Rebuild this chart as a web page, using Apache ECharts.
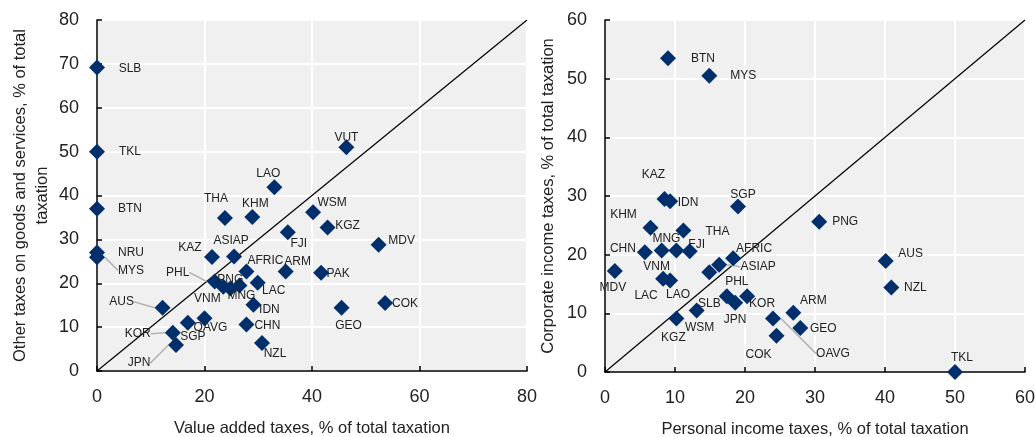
<!DOCTYPE html>
<html>
<head>
<meta charset="utf-8">
<script src="https://cdn.jsdelivr.net/npm/echarts@6/dist/echarts.min.js"></script>
<style>
  html, body { margin: 0; padding: 0; background: #fff; }
  #chart { width: 1035px; height: 437px; }
</style>
</head>
<body>
<div id="chart"></div>
<script>
// left panel: VAT vs other taxes on goods and services
var namesLeft = ['SLB', 'TKL', 'BTN', 'NRU', 'MYS', 'AUS', 'KOR', 'SGP', 'JPN', 'OAVG', 'VNM',
    'PHL', 'PNG', 'MNG', 'KAZ', 'ASIAP', 'THA', 'KHM', 'LAO', 'VUT', 'WSM', 'KGZ', 'FJI',
    'MDV', 'AFRIC', 'ARM', 'PAK', 'LAC', 'IDN', 'CHN', 'NZL', 'GEO', 'COK'];
var vatLeft = [0, 0, 0, 0, 0, 12.2, 14.1, 16.9, 14.7, 20.0, 23.5,
    21.9, 24.8, 26.5, 21.4, 25.5, 23.8, 28.9, 33.0, 46.4, 40.2, 42.9, 35.5,
    52.4, 27.8, 35.1, 41.7, 29.9, 29.1, 27.8, 30.7, 45.5, 53.6];
var otherLeft = [69.2, 50.0, 37.0, 27.0, 25.9, 14.4, 8.7, 11.0, 5.9, 12.0, 19.2,
    20.4, 18.8, 19.5, 26.0, 26.1, 34.9, 35.1, 41.9, 51.0, 36.2, 32.7, 31.6,
    28.8, 22.7, 22.7, 22.4, 20.1, 15.1, 10.6, 6.4, 14.4, 15.5];
var xTicksLeft = [0, 20, 40, 60, 80];
var yTicksLeft = [0, 10, 20, 30, 40, 50, 60, 70, 80];
var diagLeft = [[0, 0], [80, 80]];

// right panel: PIT vs CIT
var namesRight = ['BTN', 'MYS', 'KAZ', 'IDN', 'SGP', 'KHM', 'THA', 'MNG', 'VNM', 'FJI',
    'CHN', 'MDV', 'LAC', 'LAO', 'SLB', 'ASIAP', 'AFRIC', 'PHL', 'JPN', 'KOR', 'WSM',
    'KGZ', 'OAVG', 'COK', 'ARM', 'GEO', 'PNG', 'AUS', 'NZL', 'TKL'];
var pitRight = [9.0, 14.9, 8.5, 9.3, 19.0, 6.5, 11.2, 10.2, 8.1, 12.1,
    5.7, 1.4, 8.3, 9.3, 14.9, 16.3, 18.3, 17.4, 18.6, 20.3, 13.1,
    10.2, 24.0, 24.5, 26.9, 27.9, 30.6, 40.1, 40.9, 50.0];
var citRight = [53.5, 50.5, 29.5, 29.1, 28.2, 24.6, 24.1, 20.7, 20.7, 20.6,
    20.4, 17.2, 15.9, 15.6, 17.0, 18.3, 19.4, 12.9, 11.8, 12.9, 10.5,
    9.1, 9.1, 6.2, 10.1, 7.5, 25.6, 18.9, 14.4, 0];
var xTicksRight = [0, 10, 20, 30, 40, 50, 60];
var yTicksRight = [0, 10, 20, 30, 40, 50, 60];
var diagRight = [[0, 0], [60, 60]];

// label placement (px offset from the marker centre)
var offsetLeft = {
    SLB: [33, 1], TKL: [33, 0], BTN: [33, 0], NRU: [34, 0], MYS: [34, 13],
    AUS: [-41, -6], KOR: [-35, 1], SGP: [5, 14], JPN: [-37, 18], OAVG: [6, 9],
    VNM: [-16, 12], PHL: [-37, -9], PNG: [0, -9], MNG: [2, 10], KAZ: [-22, -9],
    ASIAP: [-3, -16], THA: [-9, -19], KHM: [3, -13], LAO: [-6, -13], VUT: [0, -10],
    WSM: [19, -9], KGZ: [20, -2], FJI: [11, 11], MDV: [23, -4], AFRIC: [19, -11],
    ARM: [12, -10], PAK: [17, 1], LAC: [16, 8], IDN: [16, 5], CHN: [21, 1],
    NZL: [13, 11], GEO: [7, 18], COK: [20, 1]
};
var offsetRight = {
    BTN: [35, 1], MYS: [34, 0], KAZ: [-11, -24], IDN: [18, 1], SGP: [5, -12],
    KHM: [-27, -13], THA: [34, 1], MNG: [-10, -12], VNM: [-5, 16], FJI: [7, -6],
    CHN: [-22, -4], MDV: [-2, 17], LAC: [-17, 17], LAO: [8, 14], SLB: [0, 31],
    ASIAP: [39, 2], AFRIC: [21, -9], PHL: [10, -15], JPN: [0, 17], KOR: [15, 7],
    WSM: [3, 17], KGZ: [-3, 19], OAVG: [60, 35], COK: [-18, 19], ARM: [20, -12],
    GEO: [23, 1], PNG: [26, 0], AUS: [25, -7], NZL: [24, 0], TKL: [7, -14]
};
var leaderLeft = ['MYS', 'AUS', 'KOR', 'JPN', 'PHL'];
var leaderRight = ['ASIAP', 'OAVG'];

var FONT = "'Liberation Sans Narrow', 'Arial Narrow', 'Liberation Sans', sans-serif";
var NAVY = '#002f6c';

function buildPoints(names, xs, ys, leaders) {
    return names.map(function (n, i) {
        var item = { name: n, value: [xs[i], ys[i]] };
        if (leaders.indexOf(n) >= 0) {
            item.labelLine = { show: true, lineStyle: { color: '#b5b5b5', width: 1.5 } };
        }
        return item;
    });
}

function xAxisCfg(idx, ticks, name) {
    return {
        gridIndex: idx, type: 'value', name: name, nameLocation: 'middle', nameGap: 49,
        nameTextStyle: { fontFamily: FONT, fontSize: 16.5, color: '#222' },
        min: ticks[0], max: ticks[ticks.length - 1], interval: ticks[1] - ticks[0],
        axisLine: { show: true, onZero: false, lineStyle: { color: '#000', width: 1.5 } },
        axisTick: { show: true, inside: true, length: 5, lineStyle: { color: '#000', width: 1.5 } },
        axisLabel: { fontFamily: FONT, fontSize: 18, color: '#222', margin: 17 },
        splitLine: { show: true, lineStyle: { color: '#fff', width: 2 } }
    };
}

function yAxisCfg(idx, ticks, name, gap) {
    return {
        gridIndex: idx, type: 'value', name: name, nameLocation: 'middle', nameGap: gap,
        nameTextStyle: { fontFamily: FONT, fontSize: 16.5, color: '#222', lineHeight: 22 },
        min: ticks[0], max: ticks[ticks.length - 1], interval: ticks[1] - ticks[0],
        axisLine: { show: true, onZero: false, lineStyle: { color: '#000', width: 1.5 } },
        axisTick: { show: true, inside: true, length: 5, lineStyle: { color: '#000', width: 1.5 } },
        axisLabel: { fontFamily: FONT, fontSize: 18, color: '#222', margin: 18 },
        splitLine: { show: true, lineStyle: { color: '#fff', width: 2 } }
    };
}

function scatterSeries(idx, names, xs, ys, leaders, offsets) {
    return {
        type: 'scatter', xAxisIndex: idx, yAxisIndex: idx, z: 5,
        symbol: 'diamond', symbolSize: 16,
        itemStyle: { color: NAVY, opacity: 1 },
        data: buildPoints(names, xs, ys, leaders),
        label: {
            show: true, position: 'inside', formatter: '{b}',
            fontFamily: FONT, fontSize: 12, color: '#222'
        },
        labelLayout: function (p) {
            var o = offsets[names[p.dataIndex]] || [0, 0];
            return { dx: o[0], dy: o[1] };
        },
        emphasis: { disabled: true }
    };
}

function diagSeries(idx, data) {
    return {
        type: 'line', xAxisIndex: idx, yAxisIndex: idx, z: 2, silent: true,
        data: data, symbol: 'none',
        lineStyle: { color: '#000', width: 1.2 }
    };
}

var myChart = echarts.init(document.getElementById('chart'));
var option = {
    animation: false,
    grid: [
        { left: 97, top: 20, width: 430, height: 351, show: true, backgroundColor: '#f0f0f0',
          borderWidth: 0, outerBoundsMode: 'none' },
        { left: 605, top: 20, width: 420, height: 352, show: true, backgroundColor: '#f0f0f0',
          borderWidth: 0, outerBoundsMode: 'none' }
    ],
    xAxis: [
        xAxisCfg(0, xTicksLeft, 'Value added taxes, % of total taxation'),
        xAxisCfg(1, xTicksRight, 'Personal income taxes, % of total taxation')
    ],
    yAxis: [
        yAxisCfg(0, yTicksLeft, 'Other taxes on goods and services, % of total\ntaxation', 44),
        yAxisCfg(1, yTicksRight, 'Corporate income taxes, % of total taxation', 46)
    ],
    series: [
        diagSeries(0, diagLeft),
        diagSeries(1, diagRight),
        scatterSeries(0, namesLeft, vatLeft, otherLeft, leaderLeft, offsetLeft),
        scatterSeries(1, namesRight, pitRight, citRight, leaderRight, offsetRight)
    ]
};
myChart.setOption(option);
</script>
</body>
</html>
